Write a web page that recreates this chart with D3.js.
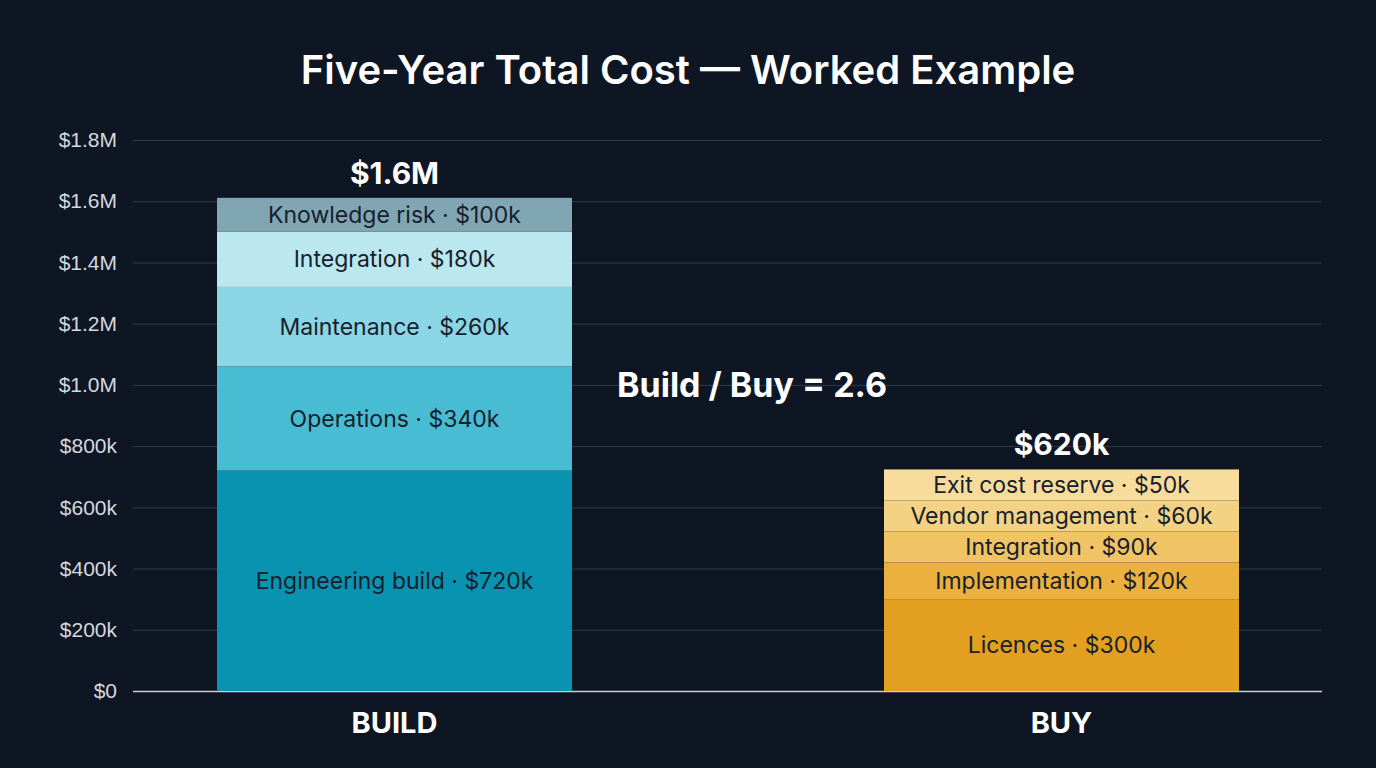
<!DOCTYPE html>
<html><head><meta charset="utf-8">
<script src="https://cdn.jsdelivr.net/npm/d3@7"></script>
<style>body{margin:0;background:#0e1623;}svg{display:block;font-family:Inter,"Noto Sans",sans-serif;}</style>
</head><body><svg id="c" width="1376" height="768"></svg>
<script>
const categories = ["BUILD","BUY"];
const totals = ["$1.6M","$620k"];
const buildNames = ["Engineering build","Operations","Maintenance","Integration","Knowledge risk"];
const buildValues = [720,340,260,180,100];
const buyNames = ["Licences","Implementation","Integration","Vendor management","Exit cost reserve"];
const buyValues = [300,120,90,60,50];
const yTicks = [0,200,400,600,800,1000,1200,1400,1600,1800];
const tickLabels = ["$0","$200k","$400k","$600k","$800k","$1.0M","$1.2M","$1.4M","$1.6M","$1.8M"];
const buildColors = ["#0893b0","#48bcd3","#8bd6e4","#bbe7ef","#7fa6b2"];
const buyColors = ["#e39f20","#ebb03d","#f0c465","#f4d283","#f7dc9c"];
const ratioText = "Build / Buy = 2.6";

const svg = d3.select("#c");
const y = d3.scaleLinear().domain([0,1800]).range([691,140]);
const x = d3.scaleBand().domain(categories).range([133,1322]).paddingInner(0.75).paddingOuter(0.0);
const bw = 355;
const cx = {BUILD:394.5, BUY:1061.5};

svg.append("text").attr("x",688).attr("y",84).attr("text-anchor","middle").attr("fill","#fff")
  .attr("font-size",40).attr("font-weight",600).text("Five-Year Total Cost — Worked Example");

const ax = svg.append("g").attr("transform","translate(133,0)")
  .call(d3.axisLeft(y).tickValues(yTicks).tickFormat((d,i)=>tickLabels[i]).tickSize(-1189).tickPadding(16));
ax.select(".domain").remove();
ax.selectAll(".tick line").attr("stroke",(d)=>d===0?"#c9ced6":"#2f3a4a").attr("stroke-width",(d)=>d===0?1.5:1);
ax.selectAll(".tick text").attr("fill","#d4d8df").attr("font-size",21);
ax.selectAll(".tick").filter(d=>d===0).raise();

function stack(cat,names,vals,cols,minPx){
  let base = 691;
  vals.forEach((v,i)=>{
    const h = Math.max(y(0)-y(v), minPx);
    const top = base - h;
    svg.append("rect").attr("x",cx[cat]-bw/2).attr("y",top).attr("width",bw).attr("height",h).attr("fill",cols[i]);
    svg.append("text").attr("x",cx[cat]).attr("y",top+h/2+8).attr("text-anchor","middle")
      .attr("fill","#17202c").attr("font-size",23).text(names[i]+" · $"+v+"k");
    base = top;
  });
  return base;
}
const t1 = stack("BUILD",buildNames,buildValues,buildColors,34);
const t2 = stack("BUY",buyNames,buyValues,buyColors,31);
svg.append("text").attr("x",cx.BUILD).attr("y",t1-14).attr("text-anchor","middle").attr("fill","#fff").attr("font-size",30).attr("font-weight",700).text(totals[0]);
svg.append("text").attr("x",cx.BUY).attr("y",t2-14).attr("text-anchor","middle").attr("fill","#fff").attr("font-size",30).attr("font-weight",700).text(totals[1]);
categories.forEach(c=>svg.append("text").attr("x",cx[c]).attr("y",733).attr("text-anchor","middle").attr("fill","#fff").attr("font-size",29).attr("font-weight",700).text(c));
svg.append("text").attr("x",752).attr("y",397).attr("text-anchor","middle").attr("fill","#fff").attr("font-size",34).attr("font-weight",700).text(ratioText);
</script></body></html>
